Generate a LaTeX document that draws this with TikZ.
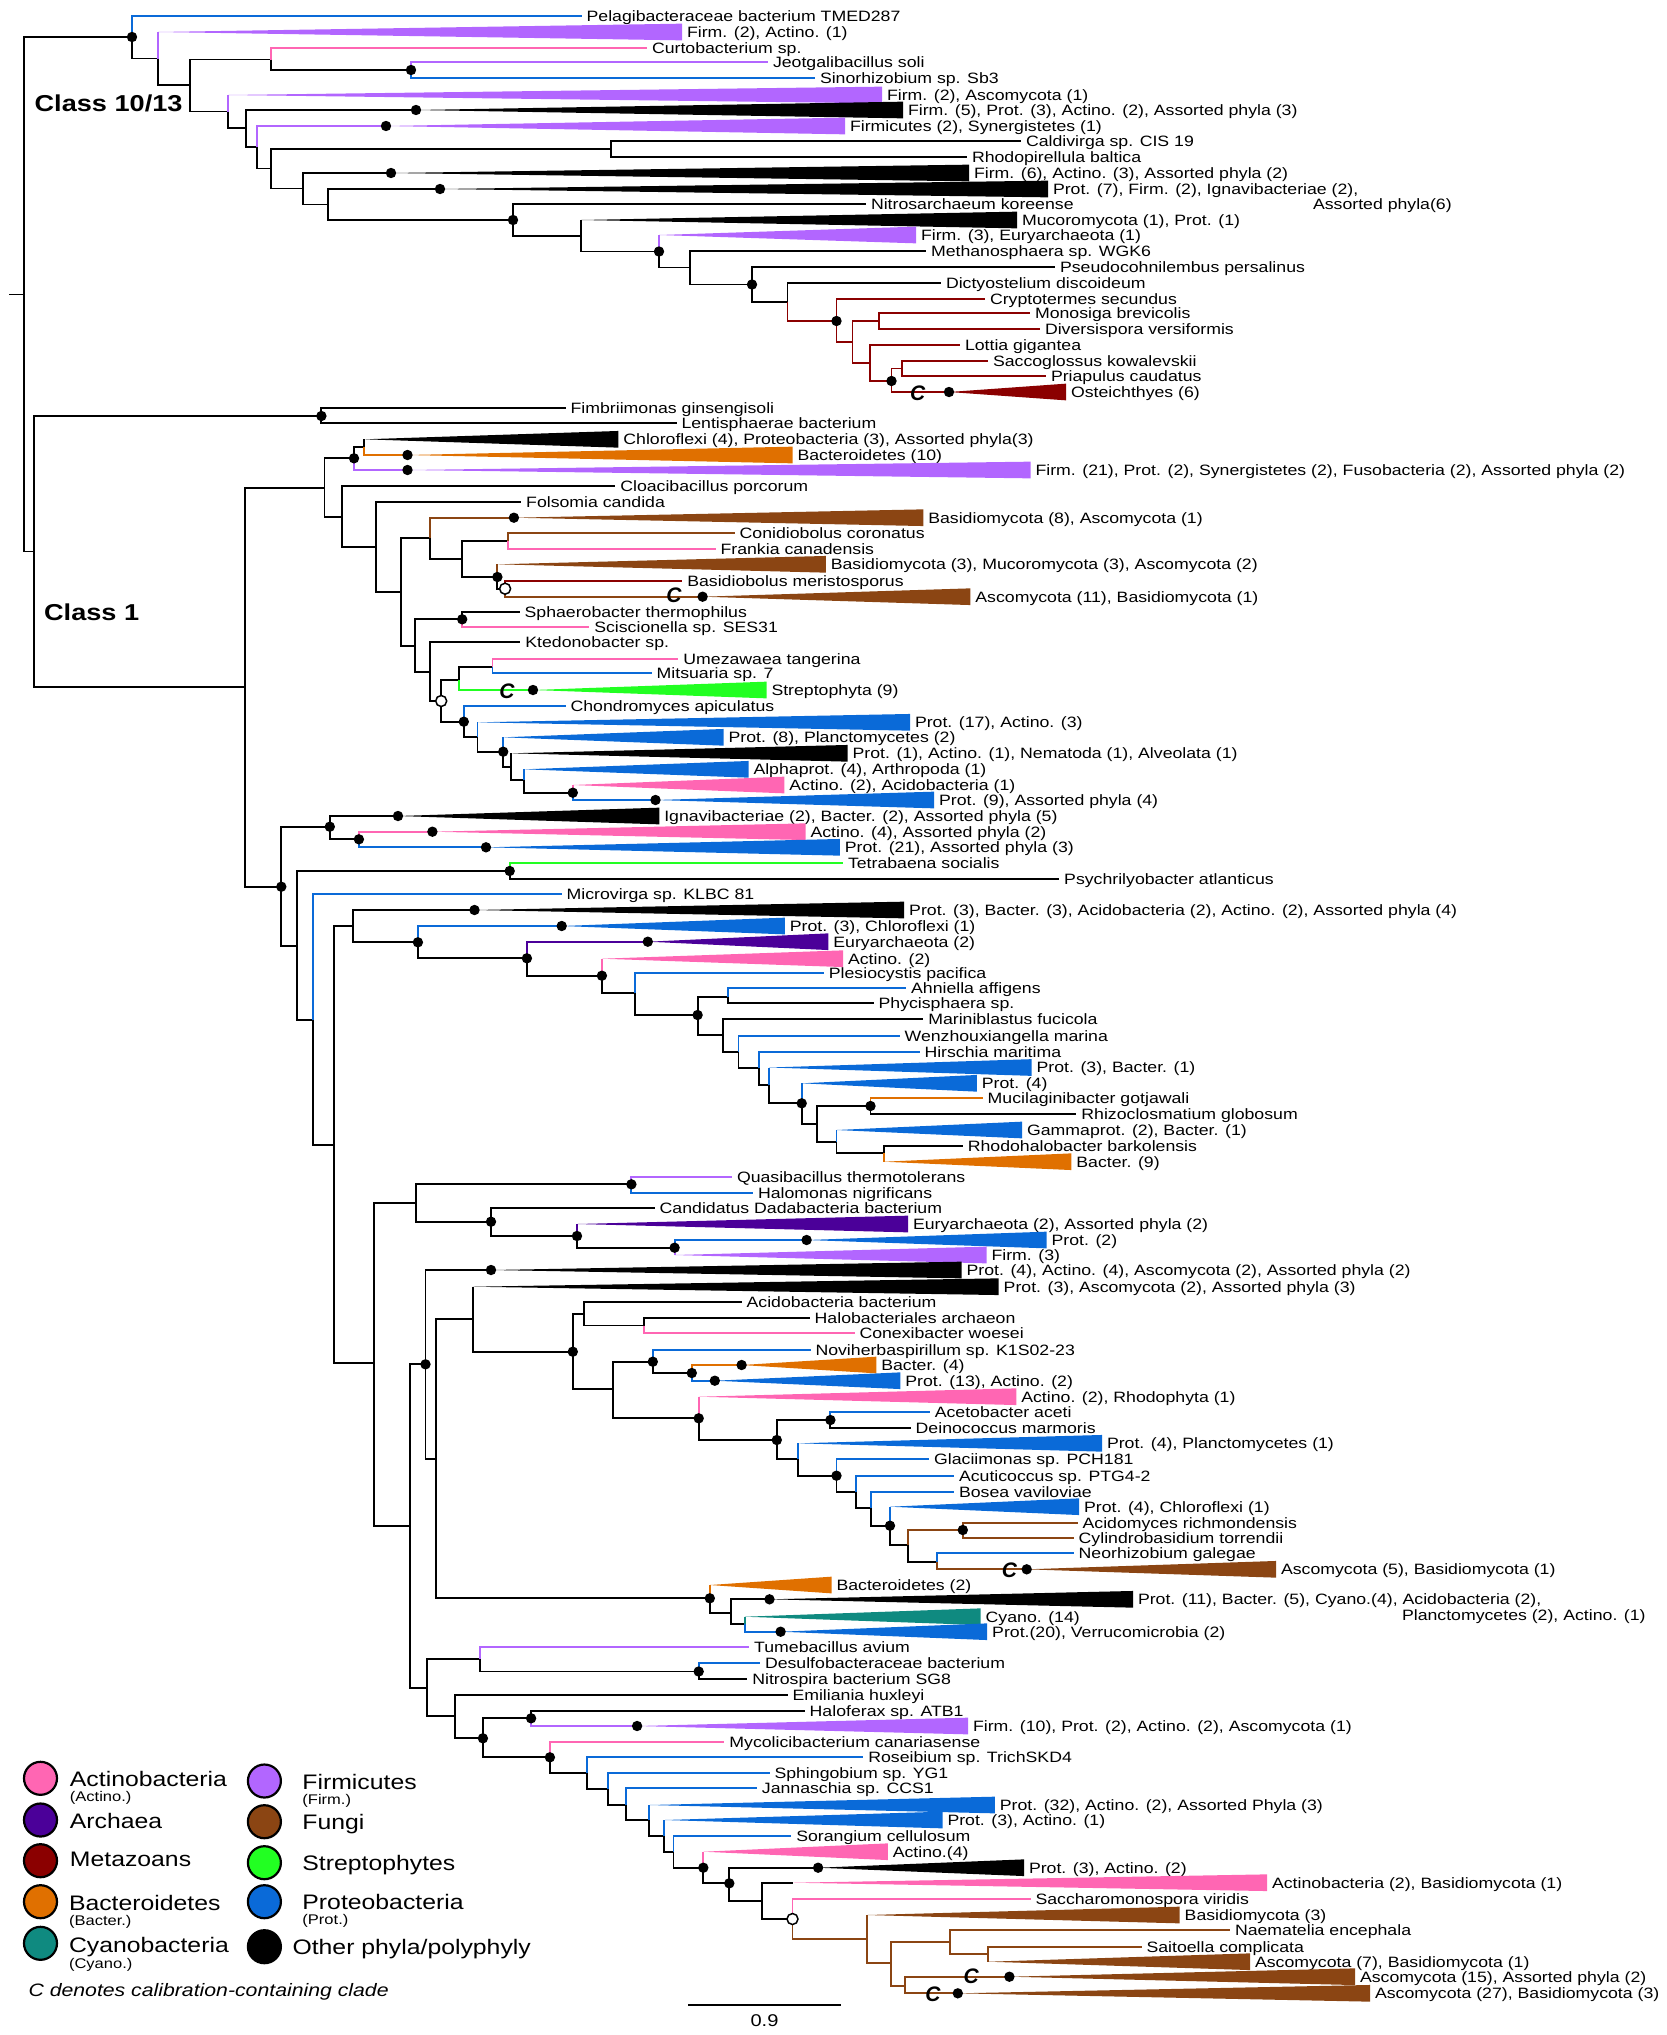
\documentclass[tikz,border=0pt]{standalone}
\usepackage{fontspec}
\newfontfamily\labfam{Liberation Sans}[FakeStretch=1.18]
\newfontfamily\calfam{Liberation Sans}
\definecolor{actino}{HTML}{FF66B3}
\definecolor{archaea}{HTML}{4B0099}
\definecolor{metazoa}{HTML}{8B0000}
\definecolor{bacter}{HTML}{E07000}
\definecolor{cyano}{HTML}{0F8A80}
\definecolor{firm}{HTML}{B266FF}
\definecolor{fungi}{HTML}{8B4513}
\definecolor{strepto}{HTML}{22FF22}
\definecolor{prot}{HTML}{0A6AD8}
\begin{document}
\begin{tikzpicture}[x=1pt,y=-1pt,line width=1.9pt,
  lab/.style={anchor=west,inner xsep=5pt,inner ysep=3pt,outer sep=0pt,text height=10.7pt,text depth=0pt,font=\fontsize{15}{17}\labfam},
  cal/.style={inner sep=0pt,font=\fontsize{21}{21}\calfam\bfseries\itshape},
  cls/.style={anchor=west,inner sep=0pt,text height=16.5pt,text depth=0pt,font=\fontsize{23}{25}\labfam\bfseries},
  leg/.style={anchor=west,inner sep=0pt,text height=15pt,text depth=0pt,font=\fontsize{21}{23}\labfam},
  legsub/.style={anchor=west,inner sep=0pt,text height=10pt,text depth=0pt,font=\fontsize{14}{16}\labfam},
  note/.style={anchor=west,inner sep=0pt,text height=12.9pt,text depth=0pt,font=\fontsize{18}{20}\labfam\itshape},
  opendot/.style={fill=white,draw=black,line width=1.5pt}]
\useasboundingbox (0,0) rectangle (1666,2035);

\node[cls] (cls1) at (33.7,103.5) {Class 10/13};
\node[cls] (cls2) at (43.2,612) {Class 1};

\coordinate (rs) at (9,294.5);
\coordinate (r) at (24,294.5);
\coordinate (a1) at (132,37);
\coordinate (a2) at (158,58.5);
\coordinate (a3) at (190,85);
\coordinate (a4) at (271,59.5);
\coordinate (a5) at (228,111.5);
\coordinate (a6) at (411,70);
\coordinate (a7) at (246,128);
\coordinate (a8) at (257,147);
\coordinate (a9) at (271,168.5);
\coordinate (a10) at (611,149);
\coordinate (a11) at (303,188.5);
\coordinate (a12) at (328,204.5);
\coordinate (a13) at (513,220);
\coordinate (a14) at (581,236);
\coordinate (a15) at (659,251.5);
\coordinate (a16) at (690,267.5);
\coordinate (a17) at (752,284.5);
\coordinate (a18) at (787.5,302);
\coordinate (a19) at (836.5,321);
\coordinate (a20) at (879,321);
\coordinate (a21) at (852.5,342);
\coordinate (a22) at (870,363);
\coordinate (a23) at (891.5,381);
\coordinate (a24) at (902,368.5);

\node[lab] (t1) at (581.6,16) {Pelagibacteraceae bacterium TMED287};
\node[lab] (w1) at (682,32) {Firm. (2), Actino. (1)};
\node[lab] (t3) at (647,48) {Curtobacterium sp.};
\node[lab] (t4) at (768,62) {Jeotgalibacillus soli};
\node[lab] (t5) at (815,78) {Sinorhizobium sp. Sb3};
\node[lab] (w2) at (882,95) {Firm. (2), Ascomycota (1)};
\node[lab] (w3) at (903,110) {Firm. (5), Prot. (3), Actino. (2), Assorted phyla (3)};
\node[lab] (w4) at (845,126) {Firmicutes (2), Synergistetes (1)};
\node[lab] (t9) at (1021,141) {Caldivirga sp. CIS 19};
\node[lab] (t10) at (967,157) {Rhodopirellula baltica};
\node[lab] (w5) at (969,173) {Firm. (6), Actino. (3), Assorted phyla (2)};
\node[lab] (w6) at (1048,189) {Prot. (7), Firm. (2), Ignavibacteriae (2),};
\node[lab] (w6b) at (1308,204) {Assorted phyla(6)};
\node[lab] (t13) at (866,204) {Nitrosarchaeum koreense};
\node[lab] (w7) at (1017,220) {Mucoromycota (1), Prot. (1)};
\node[lab] (w8) at (916,235) {Firm. (3), Euryarchaeota (1)};
\node[lab] (t16) at (926,251) {Methanosphaera sp. WGK6};
\node[lab] (t17) at (1055,267) {Pseudocohnilembus persalinus};
\node[lab] (t18) at (941,283) {Dictyostelium discoideum};
\node[lab] (t19) at (985,299) {Cryptotermes secundus};
\node[lab] (t20) at (1030,313) {Monosiga brevicolis};
\node[lab] (t21) at (1040,329) {Diversispora versiformis};
\node[lab] (t22) at (960,345) {Lottia gigantea};
\node[lab] (t23) at (988,361) {Saccoglossus kowalevskii};
\node[lab] (t24) at (1046,376) {Priapulus caudatus};
\node[lab] (w25) at (1066,392) {Osteichthyes (6)};

\coordinate (w1c) at (158,32);
\coordinate (w2c) at (228,95);
\coordinate (w3c) at (416,110);
\coordinate (w4c) at (386,126);
\coordinate (w5c) at (391,173);
\coordinate (w6c) at (440,189);
\coordinate (w7c) at (581,220);
\coordinate (w8c) at (659,235);
\coordinate (w25c) at (949,392);

\draw (rs) -- (r);
\draw (r) |- (a1);
\draw[prot] (a1) |- (t1.west);
\draw (a1) |- (a2);
\draw[firm] (a2) |- (w1c);
\draw (a2) |- (a3);
\draw (a3) |- (a4);
\draw (a3) |- (a5);
\draw[actino] (a4) |- (t3.west);
\draw (a4) |- (a6);
\draw[firm] (a6) |- (t4.west);
\draw[prot] (a6) |- (t5.west);
\draw[firm] (a5) |- (w2c);
\draw (a5) |- (a7);
\draw (a7) |- (w3c);
\draw (a7) |- (a8);
\draw[firm] (a8) |- (w4c);
\draw (a8) |- (a9);
\draw (a9) |- (a10);
\draw (a9) |- (a11);
\draw (a10) |- (t9.west);
\draw (a10) |- (t10.west);
\draw (a11) |- (w5c);
\draw (a11) |- (a12);
\draw (a12) |- (w6c);
\draw (a12) |- (a13);
\draw (a13) |- (t13.west);
\draw (a13) |- (a14);
\draw (a14) |- (w7c);
\draw (a14) |- (a15);
\draw[firm] (a15) |- (w8c);
\draw (a15) |- (a16);
\draw (a16) |- (t16.west);
\draw (a16) |- (a17);
\draw (a17) |- (t17.west);
\draw (a17) |- (a18);
\draw (a18) |- (t18.west);
\draw[metazoa] (a18) |- (a19);
\draw[metazoa] (a19) |- (t19.west);
\draw[metazoa] (a19) |- (a21);
\draw[metazoa] (a21) |- (a20);
\draw[metazoa] (a20) |- (t20.west);
\draw[metazoa] (a20) |- (t21.west);
\draw[metazoa] (a21) |- (a22);
\draw[metazoa] (a22) |- (t22.west);
\draw[metazoa] (a22) |- (a23);
\draw[metazoa] (a23) |- (a24);
\draw[metazoa] (a24) |- (t23.west);
\draw[metazoa] (a24) |- (t24.west);
\draw[metazoa] (a23) |- (w25c);

\fill[firm] (w1c) -- (w1.north west) -- (w1.south west) -- cycle;
\fill[firm] (w2c) -- (w2.north west) -- (w2.south west) -- cycle;
\fill (w3c) -- (w3.north west) -- (w3.south west) -- cycle;
\fill[firm] (w4c) -- (w4.north west) -- (w4.south west) -- cycle;
\fill (w5c) -- (w5.north west) -- (w5.south west) -- cycle;
\fill (w6c) -- (w6.north west) -- (w6.south west) -- cycle;
\fill (w7c) -- (w7.north west) -- (w7.south west) -- cycle;
\fill[firm] (w8c) -- (w8.north west) -- (w8.south west) -- cycle;
\fill[metazoa] (w25c) -- (w25.north west) -- (w25.south west) -- cycle;

\coordinate (c0) at (34.4,551.5);
\coordinate (c1) at (321.4,416);
\coordinate (c2) at (245,687);
\coordinate (c3) at (324.5,487.7);
\coordinate (c4) at (281.3,886.7);
\coordinate (c5) at (354,458.3);
\coordinate (c6) at (341.7,516.7);
\coordinate (c7) at (364.3,446.7);
\coordinate (c8) at (376.2,547.3);
\coordinate (c9) at (400.6,591.7);
\coordinate (c10) at (429.7,538.3);
\coordinate (c11) at (415.2,646);
\coordinate (c12) at (462.2,559);
\coordinate (c13) at (508.2,541);
\coordinate (c14) at (497.4,577);
\coordinate (c15) at (505.1,588.7);
\coordinate (c16) at (462.2,619.3);
\coordinate (c17) at (429.7,672);
\coordinate (c18) at (441.2,701);
\coordinate (c19) at (492.5,666.7);
\coordinate (c20) at (459.2,680);
\coordinate (c21) at (463.8,721.7);
\coordinate (c22) at (477.5,737.3);
\coordinate (c23) at (503.2,751.7);
\coordinate (c24) at (510.8,767.3);
\coordinate (c25) at (524.2,780);
\coordinate (c26) at (572.8,792.7);
\coordinate (c27) at (329.8,826.7);
\coordinate (c28) at (296.6,946);
\coordinate (c29) at (358.9,839.3);
\coordinate (c30) at (509.7,871);
\coordinate (c31) at (313,1020);
\coordinate (c32) at (334,1145);
\coordinate (c33) at (353.2,926);
\coordinate (c34) at (417.9,942.3);
\coordinate (c35) at (526.9,958.3);
\coordinate (c36) at (601.9,975.7);
\coordinate (c37) at (635.2,993.3);
\coordinate (c38) at (697.6,1015);
\coordinate (c39) at (728.2,996.7);
\coordinate (c40) at (723.2,1035);
\coordinate (c41) at (738.5,1051.7);
\coordinate (c42) at (758.8,1068.3);
\coordinate (c43) at (769.1,1085);
\coordinate (c44) at (801.7,1103.3);
\coordinate (c45) at (817,1124);
\coordinate (c46) at (870.5,1106);
\coordinate (c47) at (836.5,1141.7);
\coordinate (c48) at (883.9,1153.3);
\coordinate (c49) at (373.9,1363.3);
\coordinate (c50) at (416,1202.7);
\coordinate (c51) at (631.4,1184.3);
\coordinate (c52) at (491,1221.7);
\coordinate (c53) at (577,1236);
\coordinate (c54) at (674.6,1247.7);
\coordinate (c55) at (410.2,1525.7);
\coordinate (c56) at (425.5,1364.3);
\coordinate (c57) at (436.2,1459.3);
\coordinate (c58) at (472.6,1319);
\coordinate (c59) at (572.8,1351.7);
\coordinate (c60) at (584.3,1314.3);
\coordinate (c61) at (644,1325.5);
\coordinate (c62) at (612.6,1389.3);
\coordinate (c63) at (652.8,1361.7);
\coordinate (c64) at (691.8,1373);
\coordinate (c65) at (698.7,1418.3);
\coordinate (c66) at (776.8,1440);
\coordinate (c67) at (830.4,1420);
\coordinate (c68) at (798.2,1459);
\coordinate (c69) at (836.5,1475.7);
\coordinate (c70) at (856.4,1491.7);
\coordinate (c71) at (870.9,1508.3);
\coordinate (c72) at (890,1525.7);
\coordinate (c73) at (908,1545);
\coordinate (c74) at (962.8,1530);
\coordinate (c75) at (936.7,1561.7);
\coordinate (c76) at (709.8,1598.3);
\coordinate (c77) at (730.9,1613.3);
\coordinate (c78) at (744.6,1624.3);
\coordinate (c79) at (426.7,1688.3);
\coordinate (c80) at (480.2,1659.3);
\coordinate (c81) at (698.7,1671.5);
\coordinate (c82) at (454.6,1716);
\coordinate (c83) at (482.9,1738.3);
\coordinate (c84) at (531.1,1718.3);
\coordinate (c85) at (549.9,1757.3);
\coordinate (c86) at (586.6,1772.7);
\coordinate (c87) at (607.7,1789.3);
\coordinate (c88) at (626,1805);
\coordinate (c89) at (649,1820);
\coordinate (c90) at (664.3,1836);
\coordinate (c91) at (673.5,1851.7);
\coordinate (c92) at (703.3,1867.7);
\coordinate (c93) at (729.3,1883.3);
\coordinate (c94) at (761.9,1901);
\coordinate (c95) at (792.5,1919);
\coordinate (c96) at (866.7,1939);
\coordinate (c97) at (890.8,1963.3);
\coordinate (c98) at (950.1,1942.3);
\coordinate (c99) at (905,1985.7);
\coordinate (c100) at (988.4,1954);

\node[lab] (k1) at (565.6,408) {Fimbriimonas ginsengisoli};
\node[lab] (k2) at (676.5,423) {Lentisphaerae bacterium};
\node[lab] (k3) at (618.4,439.3) {Chloroflexi (4), Proteobacteria (3), Assorted phyla(3)};
\node[lab] (k4) at (792.5,455) {Bacteroidetes (10)};
\node[lab] (k5) at (1030.5,470) {Firm. (21), Prot. (2), Synergistetes (2), Fusobacteria (2), Assorted phyla (2)};
\node[lab] (k6) at (615.3,486) {Cloacibacillus porcorum};
\node[lab] (k7) at (521.2,502.3) {Folsomia candida};
\node[lab] (k8) at (923.3,517.7) {Basidiomycota (8), Ascomycota (1)};
\node[lab] (k9) at (734.7,533.3) {Conidiobolus coronatus};
\node[lab] (k10) at (715.6,549) {Frankia canadensis};
\node[lab] (k11) at (825.8,564.3) {Basidiomycota (3), Mucoromycota (3), Ascomycota (2)};
\node[lab] (k12) at (682.3,580.7) {Basidiobolus meristosporus};
\node[lab] (k13) at (970.4,596.7) {Ascomycota (11), Basidiomycota (1)};
\node[lab] (k14) at (519.6,611.7) {Sphaerobacter thermophilus};
\node[lab] (k15) at (589.3,626.7) {Sciscionella sp. SES31};
\node[lab] (k16) at (520.4,642.3) {Ktedonobacter sp.};
\node[lab] (k17) at (678.4,659.3) {Umezawaea tangerina};
\node[lab] (k18) at (651.7,673.3) {Mitsuaria sp. 7};
\node[lab] (k19) at (766.5,690) {Streptophyta (9)};
\node[lab] (k20) at (565.6,706) {Chondromyces apiculatus};
\node[lab] (k21) at (910,722.3) {Prot. (17), Actino. (3)};
\node[lab] (k22) at (723.6,737.3) {Prot. (8), Planctomycetes (2)};
\node[lab] (k23) at (847.6,753.3) {Prot. (1), Actino. (1), Nematoda (1), Alveolata (1)};
\node[lab] (k24) at (748.5,769.3) {Alphaprot. (4), Arthropoda (1)};
\node[lab] (k25) at (784.4,785) {Actino. (2), Acidobacteria (1)};
\node[lab] (k26) at (934.1,800) {Prot. (9), Assorted phyla (4)};
\node[lab] (k27) at (659.3,816) {Ignavibacteriae (2), Bacter. (2), Assorted phyla (5)};
\node[lab] (k28) at (805.5,831.7) {Actino. (4), Assorted phyla (2)};
\node[lab] (k29) at (839.9,847.3) {Prot. (21), Assorted phyla (3)};
\node[lab] (k30) at (843,863.3) {Tetrabaena socialis};
\node[lab] (k31) at (1059.2,879) {Psychrilyobacter atlanticus};
\node[lab] (k32) at (561.7,894.3) {Microvirga sp. KLBC 81};
\node[lab] (k33) at (904.2,910) {Prot. (3), Bacter. (3), Acidobacteria (2), Actino. (2), Assorted phyla (4)};
\node[lab] (k34) at (784.8,926) {Prot. (3), Chloroflexi (1)};
\node[lab] (k35) at (828.4,941.7) {Euryarchaeota (2)};
\node[lab] (k36) at (843,958.7) {Actino. (2)};
\node[lab] (k37) at (823.9,973.3) {Plesiocystis pacifica};
\node[lab] (k38) at (906.1,988.3) {Ahniella affigens};
\node[lab] (k39) at (873.6,1002.7) {Phycisphaera sp.};
\node[lab] (k40) at (923.3,1019) {Mariniblastus fucicola};
\node[lab] (k41) at (899.6,1035.7) {Wenzhouxiangella marina};
\node[lab] (k42) at (919.5,1051.7) {Hirschia maritima};
\node[lab] (k43) at (1031.6,1067.5) {Prot. (3), Bacter. (1)};
\node[lab] (k44) at (976.9,1083.3) {Prot. (4)};
\node[lab] (k45) at (982.7,1098.3) {Mucilaginibacter gotjawali};
\node[lab] (k46) at (1076.4,1114) {Rhizoclosmatium globosum};
\node[lab] (k47) at (1022.1,1130) {Gammaprot. (2), Bacter. (1)};
\node[lab] (k48) at (962.8,1146) {Rhodohalobacter barkolensis};
\node[lab] (k49) at (1071.4,1161.7) {Bacter. (9)};
\node[lab] (k50) at (732,1176.7) {Quasibacillus thermotolerans};
\node[lab] (k51) at (753.1,1192.7) {Halomonas nigrificans};
\node[lab] (k52) at (654.7,1208.3) {Candidatus Dadabacteria bacterium};
\node[lab] (k53) at (908,1224) {Euryarchaeota (2), Assorted phyla (2)};
\node[lab] (k54) at (1046.6,1240) {Prot. (2)};
\node[lab] (k55) at (986.5,1255) {Firm. (3)};
\node[lab] (k56) at (961.6,1270) {Prot. (4), Actino. (4), Ascomycota (2), Assorted phyla (2)};
\node[lab] (k57) at (998.7,1286.7) {Prot. (3), Ascomycota (2), Assorted phyla (3)};
\node[lab] (k58) at (741.6,1302.3) {Acidobacteria bacterium};
\node[lab] (k59) at (809.7,1317.7) {Halobacteriales archaeon};
\node[lab] (k60) at (854.5,1333.3) {Conexibacter woesei};
\node[lab] (k61) at (810.5,1350) {Noviherbaspirillum sp. K1S02-23};
\node[lab] (k62) at (876.3,1365) {Bacter. (4)};
\node[lab] (k63) at (900.4,1380.7) {Prot. (13), Actino. (2)};
\node[lab] (k64) at (1016.3,1396.7) {Actino. (2), Rhodophyta (1)};
\node[lab] (k65) at (929.8,1411.7) {Acetobacter aceti};
\node[lab] (k66) at (910.7,1428.3) {Deinococcus marmoris};
\node[lab] (k67) at (1102,1443.3) {Prot. (4), Planctomycetes (1)};
\node[lab] (k68) at (929.1,1459.3) {Glaciimonas sp. PCH181};
\node[lab] (k69) at (954,1475.7) {Acuticoccus sp. PTG4-2};
\node[lab] (k70) at (954,1491.7) {Bosea vaviloviae};
\node[lab] (k71) at (1079.1,1506.7) {Prot. (4), Chloroflexi (1)};
\node[lab] (k72) at (1077.6,1522.7) {Acidomyces richmondensis};
\node[lab] (k73) at (1073.7,1538.3) {Cylindrobasidium torrendii};
\node[lab] (k74) at (1073.7,1553.3) {Neorhizobium galegae};
\node[lab] (k75) at (1276,1569.3) {Ascomycota (5), Basidiomycota (1)};
\node[lab] (k76) at (831.5,1585) {Bacteroidetes (2)};
\node[lab] (k77) at (1133,1599.3) {Prot. (11), Bacter. (5), Cyano.(4), Acidobacteria (2),};
\node[lab] (k77b) at (1397,1615) {Planctomycetes (2), Actino. (1)};
\node[lab] (k78) at (980.7,1616.7) {Cyano. (14)};
\node[lab] (k79) at (987.2,1631.7) {Prot.(20), Verrucomicrobia (2)};
\node[lab] (k80) at (749.2,1647.3) {Tumebacillus avium};
\node[lab] (k81) at (760,1663.3) {Desulfobacteraceae bacterium};
\node[lab] (k82) at (747.3,1679.3) {Nitrospira bacterium SG8};
\node[lab] (k83) at (787.5,1695) {Emiliania huxleyi};
\node[lab] (k84) at (804.7,1710.7) {Haloferax sp. ATB1};
\node[lab] (k85) at (968.1,1726) {Firm. (10), Prot. (2), Actino. (2), Ascomycota (1)};
\node[lab] (k86) at (724.4,1741.7) {Mycolicibacterium canariasense};
\node[lab] (k87) at (863.3,1757.3) {Roseibium sp. TrichSKD4};
\node[lab] (k88) at (769.5,1772.7) {Sphingobium sp. YG1};
\node[lab] (k89) at (756.9,1788.3) {Jannaschia sp. CCS1};
\node[lab] (k90) at (994.9,1805) {Prot. (32), Actino. (2), Assorted Phyla (3)};
\node[lab] (k91) at (942.5,1820) {Prot. (3), Actino. (1)};
\node[lab] (k92) at (791.3,1836) {Sorangium cellulosum};
\node[lab] (k93) at (887.8,1851.7) {Actino.(4)};
\node[lab] (k94) at (1024,1867.7) {Prot. (3), Actino. (2)};
\node[lab] (k95) at (1267,1882.7) {Actinobacteria (2), Basidiomycota (1)};
\node[lab] (k96) at (1030.5,1899.3) {Saccharomonospora viridis};
\node[lab] (k97) at (1179.7,1915) {Basidiomycota (3)};
\node[lab] (k98) at (1230,1930) {Naematelia encephala};
\node[lab] (k99) at (1141.5,1946.7) {Saitoella complicata};
\node[lab] (k100) at (1250,1961.7) {Ascomycota (7), Basidiomycota (1)};
\node[lab] (k101) at (1355,1976.7) {Ascomycota (15), Assorted phyla (2)};
\node[lab] (k102) at (1370,1993.3) {Ascomycota (27), Basidiomycota (3)};

\coordinate (k3c) at (364.3,439.3);
\coordinate (k4c) at (407.5,455);
\coordinate (k5c) at (407.5,470);
\coordinate (k8c) at (513.9,517.7);
\coordinate (k11c) at (497.4,564.3);
\coordinate (k13c) at (702.6,596.7);
\coordinate (k19c) at (533,690);
\coordinate (k21c) at (477.5,722.3);
\coordinate (k22c) at (503.2,737.3);
\coordinate (k23c) at (510.8,753.3);
\coordinate (k24c) at (524.2,769.3);
\coordinate (k25c) at (572.8,785);
\coordinate (k26c) at (655.5,800);
\coordinate (k27c) at (398,816);
\coordinate (k28c) at (432.4,831.7);
\coordinate (k29c) at (486,847.3);
\coordinate (k33c) at (474.5,910);
\coordinate (k34c) at (561.7,926);
\coordinate (k35c) at (647.8,941.7);
\coordinate (k36c) at (601.9,958.7);
\coordinate (k43c) at (769.1,1067.5);
\coordinate (k44c) at (801.7,1083.3);
\coordinate (k47c) at (836.5,1130);
\coordinate (k49c) at (883.9,1161.7);
\coordinate (k53c) at (577,1224);
\coordinate (k54c) at (806.6,1240);
\coordinate (k55c) at (674.6,1255);
\coordinate (k56c) at (491,1270);
\coordinate (k57c) at (472.6,1286.7);
\coordinate (k62c) at (741.6,1365);
\coordinate (k63c) at (714.8,1380.7);
\coordinate (k64c) at (698.7,1396.7);
\coordinate (k67c) at (798.2,1443.3);
\coordinate (k71c) at (890,1506.7);
\coordinate (k75c) at (1026.7,1569.3);
\coordinate (k76c) at (709.8,1585);
\coordinate (k77c) at (769.5,1599.3);
\coordinate (k78c) at (744.6,1616.7);
\coordinate (k79c) at (780.6,1631.7);
\coordinate (k85c) at (637.1,1726);
\coordinate (k90c) at (649,1805);
\coordinate (k91c) at (664.3,1820);
\coordinate (k93c) at (703.3,1851.7);
\coordinate (k94c) at (818.1,1867.7);
\coordinate (k95c) at (793.2,1882.7);
\coordinate (k97c) at (866.7,1915);
\coordinate (k100c) at (988.4,1961.7);
\coordinate (k101c) at (1009.4,1976.7);
\coordinate (k102c) at (957.8,1993.3);

\draw (r) |- (c0);
\draw (c0) |- (c1);
\draw (c0) |- (c2);
\draw (c1) |- (k1.west);
\draw (c1) |- (k2.west);
\draw (c2) |- (c3);
\draw (c2) |- (c4);
\draw (c3) |- (c5);
\draw (c3) |- (c6);
\draw (c5) |- (c7);
\draw[firm] (c5) |- (k5c);
\draw (c7) |- (k3c);
\draw[bacter] (c7) |- (k4c);
\draw (c6) |- (k6.west);
\draw (c6) |- (c8);
\draw (c8) |- (k7.west);
\draw (c8) |- (c9);
\draw (c9) |- (c10);
\draw (c9) |- (c11);
\draw[fungi] (c10) |- (k8c);
\draw (c10) |- (c12);
\draw (c12) |- (c13);
\draw (c12) |- (c14);
\draw[fungi] (c13) |- (k9.west);
\draw[actino] (c13) |- (k10.west);
\draw[fungi] (c14) |- (k11c);
\draw (c14) |- (c15);
\draw[metazoa] (c15) |- (k12.west);
\draw[fungi] (c15) |- (k13c);
\draw (c11) |- (c16);
\draw (c11) |- (c17);
\draw (c16) |- (k14.west);
\draw[actino] (c16) |- (k15.west);
\draw (c17) |- (k16.west);
\draw (c17) |- (c18);
\draw (c18) |- (c20);
\draw (c18) |- (c21);
\draw (c20) |- (c19);
\draw[strepto] (c20) |- (k19c);
\draw[actino] (c19) |- (k17.west);
\draw[prot] (c19) |- (k18.west);
\draw[prot] (c21) |- (k20.west);
\draw (c21) |- (c22);
\draw[prot] (c22) |- (k21c);
\draw (c22) |- (c23);
\draw[prot] (c23) |- (k22c);
\draw (c23) |- (c24);
\draw (c24) |- (k23c);
\draw (c24) |- (c25);
\draw[prot] (c25) |- (k24c);
\draw (c25) |- (c26);
\draw[actino] (c26) |- (k25c);
\draw[prot] (c26) |- (k26c);
\draw (c4) |- (c27);
\draw (c4) |- (c28);
\draw (c27) |- (k27c);
\draw (c27) |- (c29);
\draw[actino] (c29) |- (k28c);
\draw[prot] (c29) |- (k29c);
\draw (c28) |- (c30);
\draw (c28) |- (c31);
\draw[strepto] (c30) |- (k30.west);
\draw (c30) |- (k31.west);
\draw[prot] (c31) |- (k32.west);
\draw (c31) |- (c32);
\draw (c32) |- (c33);
\draw (c32) |- (c49);
\draw (c33) |- (k33c);
\draw (c33) |- (c34);
\draw[prot] (c34) |- (k34c);
\draw (c34) |- (c35);
\draw[archaea] (c35) |- (k35c);
\draw (c35) |- (c36);
\draw[actino] (c36) |- (k36c);
\draw (c36) |- (c37);
\draw[prot] (c37) |- (k37.west);
\draw (c37) |- (c38);
\draw (c38) |- (c39);
\draw (c38) |- (c40);
\draw[prot] (c39) |- (k38.west);
\draw (c39) |- (k39.west);
\draw (c40) |- (k40.west);
\draw (c40) |- (c41);
\draw[prot] (c41) |- (k41.west);
\draw (c41) |- (c42);
\draw[prot] (c42) |- (k42.west);
\draw (c42) |- (c43);
\draw[prot] (c43) |- (k43c);
\draw (c43) |- (c44);
\draw[prot] (c44) |- (k44c);
\draw (c44) |- (c45);
\draw (c45) |- (c46);
\draw (c45) |- (c47);
\draw[bacter] (c46) |- (k45.west);
\draw (c46) |- (k46.west);
\draw[prot] (c47) |- (k47c);
\draw (c47) |- (c48);
\draw (c48) |- (k48.west);
\draw[bacter] (c48) |- (k49c);
\draw (c49) |- (c50);
\draw (c49) |- (c55);
\draw (c50) |- (c51);
\draw (c50) |- (c52);
\draw[firm] (c51) |- (k50.west);
\draw[prot] (c51) |- (k51.west);
\draw (c52) |- (k52.west);
\draw (c52) |- (c53);
\draw[archaea] (c53) |- (k53c);
\draw (c53) |- (c54);
\draw[prot] (c54) |- (k54c);
\draw[firm] (c54) |- (k55c);
\draw (c55) |- (c56);
\draw (c55) |- (c79);
\draw (c56) |- (k56c);
\draw (c56) |- (c57);
\draw (c57) |- (c58);
\draw (c57) |- (c76);
\draw (c58) |- (k57c);
\draw (c58) |- (c59);
\draw (c59) |- (c60);
\draw (c59) |- (c62);
\draw (c60) |- (k58.west);
\draw (c60) |- (c61);
\draw (c61) |- (k59.west);
\draw[actino] (c61) |- (k60.west);
\draw (c62) |- (c63);
\draw (c62) |- (c65);
\draw[prot] (c63) |- (k61.west);
\draw (c63) |- (c64);
\draw[bacter] (c64) |- (k62c);
\draw[prot] (c64) |- (k63c);
\draw[actino] (c65) |- (k64c);
\draw (c65) |- (c66);
\draw (c66) |- (c67);
\draw (c66) |- (c68);
\draw[prot] (c67) |- (k65.west);
\draw (c67) |- (k66.west);
\draw[prot] (c68) |- (k67c);
\draw (c68) |- (c69);
\draw[prot] (c69) |- (k68.west);
\draw (c69) |- (c70);
\draw[prot] (c70) |- (k69.west);
\draw (c70) |- (c71);
\draw[prot] (c71) |- (k70.west);
\draw (c71) |- (c72);
\draw[prot] (c72) |- (k71c);
\draw (c72) |- (c73);
\draw[fungi] (c73) |- (c74);
\draw (c73) |- (c75);
\draw[fungi] (c74) |- (k72.west);
\draw[fungi] (c74) |- (k73.west);
\draw[prot] (c75) |- (k74.west);
\draw[fungi] (c75) |- (k75c);
\draw[bacter] (c76) |- (k76c);
\draw (c76) |- (c77);
\draw (c77) |- (k77c);
\draw (c77) |- (c78);
\draw[cyano] (c78) |- (k78c);
\draw[prot] (c78) |- (k79c);
\draw (c79) |- (c80);
\draw (c79) |- (c82);
\draw[firm] (c80) |- (k80.west);
\draw (c80) |- (c81);
\draw[prot] (c81) |- (k81.west);
\draw (c81) |- (k82.west);
\draw (c82) |- (k83.west);
\draw (c82) |- (c83);
\draw (c83) |- (c84);
\draw (c83) |- (c85);
\draw (c84) |- (k84.west);
\draw[firm] (c84) |- (k85c);
\draw[actino] (c85) |- (k86.west);
\draw (c85) |- (c86);
\draw[prot] (c86) |- (k87.west);
\draw (c86) |- (c87);
\draw[prot] (c87) |- (k88.west);
\draw (c87) |- (c88);
\draw[prot] (c88) |- (k89.west);
\draw (c88) |- (c89);
\draw[prot] (c89) |- (k90c);
\draw (c89) |- (c90);
\draw[prot] (c90) |- (k91c);
\draw (c90) |- (c91);
\draw[prot] (c91) |- (k92.west);
\draw (c91) |- (c92);
\draw[actino] (c92) |- (k93c);
\draw (c92) |- (c93);
\draw (c93) |- (k94c);
\draw (c93) |- (c94);
\draw (c94) |- (k95c);
\draw (c94) |- (c95);
\draw[actino] (c95) |- (k96.west);
\draw[fungi] (c95) |- (c96);
\draw[fungi] (c96) |- (k97c);
\draw[fungi] (c96) |- (c97);
\draw[fungi] (c97) |- (c98);
\draw[fungi] (c97) |- (c99);
\draw[fungi] (c98) |- (k98.west);
\draw[fungi] (c98) |- (c100);
\draw[fungi] (c100) |- (k99.west);
\draw[fungi] (c100) |- (k100c);
\draw[fungi] (c99) |- (k101c);
\draw[fungi] (c99) |- (k102c);

\fill (k3c) -- (k3.north west) -- (k3.south west) -- cycle;
\fill[bacter] (k4c) -- (k4.north west) -- (k4.south west) -- cycle;
\fill[firm] (k5c) -- (k5.north west) -- (k5.south west) -- cycle;
\fill[fungi] (k8c) -- (k8.north west) -- (k8.south west) -- cycle;
\fill[fungi] (k11c) -- (k11.north west) -- (k11.south west) -- cycle;
\fill[fungi] (k13c) -- (k13.north west) -- (k13.south west) -- cycle;
\fill[strepto] (k19c) -- (k19.north west) -- (k19.south west) -- cycle;
\fill[prot] (k21c) -- (k21.north west) -- (k21.south west) -- cycle;
\fill[prot] (k22c) -- (k22.north west) -- (k22.south west) -- cycle;
\fill (k23c) -- (k23.north west) -- (k23.south west) -- cycle;
\fill[prot] (k24c) -- (k24.north west) -- (k24.south west) -- cycle;
\fill[actino] (k25c) -- (k25.north west) -- (k25.south west) -- cycle;
\fill[prot] (k26c) -- (k26.north west) -- (k26.south west) -- cycle;
\fill (k27c) -- (k27.north west) -- (k27.south west) -- cycle;
\fill[actino] (k28c) -- (k28.north west) -- (k28.south west) -- cycle;
\fill[prot] (k29c) -- (k29.north west) -- (k29.south west) -- cycle;
\fill (k33c) -- (k33.north west) -- (k33.south west) -- cycle;
\fill[prot] (k34c) -- (k34.north west) -- (k34.south west) -- cycle;
\fill[archaea] (k35c) -- (k35.north west) -- (k35.south west) -- cycle;
\fill[actino] (k36c) -- (k36.north west) -- (k36.south west) -- cycle;
\fill[prot] (k43c) -- (k43.north west) -- (k43.south west) -- cycle;
\fill[prot] (k44c) -- (k44.north west) -- (k44.south west) -- cycle;
\fill[prot] (k47c) -- (k47.north west) -- (k47.south west) -- cycle;
\fill[bacter] (k49c) -- (k49.north west) -- (k49.south west) -- cycle;
\fill[archaea] (k53c) -- (k53.north west) -- (k53.south west) -- cycle;
\fill[prot] (k54c) -- (k54.north west) -- (k54.south west) -- cycle;
\fill[firm] (k55c) -- (k55.north west) -- (k55.south west) -- cycle;
\fill (k56c) -- (k56.north west) -- (k56.south west) -- cycle;
\fill (k57c) -- (k57.north west) -- (k57.south west) -- cycle;
\fill[bacter] (k62c) -- (k62.north west) -- (k62.south west) -- cycle;
\fill[prot] (k63c) -- (k63.north west) -- (k63.south west) -- cycle;
\fill[actino] (k64c) -- (k64.north west) -- (k64.south west) -- cycle;
\fill[prot] (k67c) -- (k67.north west) -- (k67.south west) -- cycle;
\fill[prot] (k71c) -- (k71.north west) -- (k71.south west) -- cycle;
\fill[fungi] (k75c) -- (k75.north west) -- (k75.south west) -- cycle;
\fill[bacter] (k76c) -- (k76.north west) -- (k76.south west) -- cycle;
\fill (k77c) -- (k77.north west) -- (k77.south west) -- cycle;
\fill[cyano] (k78c) -- (k78.north west) -- (k78.south west) -- cycle;
\fill[prot] (k79c) -- (k79.north west) -- (k79.south west) -- cycle;
\fill[firm] (k85c) -- (k85.north west) -- (k85.south west) -- cycle;
\fill[prot] (k90c) -- (k90.north west) -- (k90.south west) -- cycle;
\fill[prot] (k91c) -- (k91.north west) -- (k91.south west) -- cycle;
\fill[actino] (k93c) -- (k93.north west) -- (k93.south west) -- cycle;
\fill (k94c) -- (k94.north west) -- (k94.south west) -- cycle;
\fill[actino] (k95c) -- (k95.north west) -- (k95.south west) -- cycle;
\fill[fungi] (k97c) -- (k97.north west) -- (k97.south west) -- cycle;
\fill[fungi] (k100c) -- (k100.north west) -- (k100.south west) -- cycle;
\fill[fungi] (k101c) -- (k101.north west) -- (k101.south west) -- cycle;
\fill[fungi] (k102c) -- (k102.north west) -- (k102.south west) -- cycle;

\fill (a1) circle (5.2);
\fill (a6) circle (5.2);
\fill (w3c) circle (5.2);
\fill (w4c) circle (5.2);
\fill (w5c) circle (5.2);
\fill (w6c) circle (5.2);
\fill (a13) circle (5.2);
\fill (a15) circle (5.2);
\fill (a17) circle (5.2);
\fill (a19) circle (5.2);
\fill (a23) circle (5.2);
\fill (w25c) circle (5.2);
\fill (c1) circle (5.2);
\fill (c5) circle (5.2);
\fill (k4c) circle (5.2);
\fill (k5c) circle (5.2);
\fill (k8c) circle (5.2);
\fill (c14) circle (5.2);
\fill (k13c) circle (5.2);
\fill (c16) circle (5.2);
\fill (k19c) circle (5.2);
\fill (c21) circle (5.2);
\fill (c23) circle (5.2);
\fill (c26) circle (5.2);
\fill (k26c) circle (5.2);
\fill (c4) circle (5.2);
\fill (c27) circle (5.2);
\fill (k27c) circle (5.2);
\fill (c29) circle (5.2);
\fill (k28c) circle (5.2);
\fill (k29c) circle (5.2);
\fill (c30) circle (5.2);
\fill (k33c) circle (5.2);
\fill (c34) circle (5.2);
\fill (k34c) circle (5.2);
\fill (c35) circle (5.2);
\fill (k35c) circle (5.2);
\fill (c36) circle (5.2);
\fill (c38) circle (5.2);
\fill (c44) circle (5.2);
\fill (c46) circle (5.2);
\fill (c51) circle (5.2);
\fill (c52) circle (5.2);
\fill (c53) circle (5.2);
\fill (c54) circle (5.2);
\fill (k54c) circle (5.2);
\fill (c56) circle (5.2);
\fill (k56c) circle (5.2);
\fill (c59) circle (5.2);
\fill (c63) circle (5.2);
\fill (c64) circle (5.2);
\fill (k62c) circle (5.2);
\fill (k63c) circle (5.2);
\fill (c65) circle (5.2);
\fill (c66) circle (5.2);
\fill (c67) circle (5.2);
\fill (c69) circle (5.2);
\fill (c72) circle (5.2);
\fill (c74) circle (5.2);
\fill (k75c) circle (5.2);
\fill (c76) circle (5.2);
\fill (k77c) circle (5.2);
\fill (k79c) circle (5.2);
\fill (c81) circle (5.2);
\fill (c83) circle (5.2);
\fill (c84) circle (5.2);
\fill (k85c) circle (5.2);
\fill (c85) circle (5.2);
\fill (c92) circle (5.2);
\fill (c93) circle (5.2);
\fill (k94c) circle (5.2);
\fill (k101c) circle (5.2);
\fill (k102c) circle (5.2);
\filldraw[opendot] (c15) circle (5.5);
\filldraw[opendot] (c18) circle (5.5);
\filldraw[opendot] (c95) circle (5.5);

\node[cal] (cal1) at (917.6,393) {C};
\node[cal] (cal2) at (673.9,595.3) {C};
\node[cal] (cal3) at (507,691) {C};
\node[cal] (cal4) at (1009.4,1570.3) {C};
\node[cal] (cal5) at (971.2,1976) {C};
\node[cal] (cal6) at (932.9,1994.3) {C};

\coordinate (sb1) at (688,2005);
\coordinate (sb2) at (841,2005);
\draw (sb1) -- (sb2);
\node[inner sep=0pt,text height=12.2pt,text depth=0pt,font=\fontsize{17}{19}\labfam] (sbl) at (764.5,2020) {0.9};

\filldraw[fill=actino,draw=black,line width=2.2pt] (40.5,1778.3) circle (16.5);
\filldraw[fill=archaea,draw=black,line width=2.2pt] (40.5,1820) circle (16.5);
\filldraw[fill=metazoa,draw=black,line width=2.2pt] (40.5,1860.7) circle (16.5);
\filldraw[fill=bacter,draw=black,line width=2.2pt] (40.5,1901.7) circle (16.5);
\filldraw[fill=cyano,draw=black,line width=2.2pt] (40.5,1943.3) circle (16.5);
\filldraw[fill=firm,draw=black,line width=2.2pt] (264.4,1781) circle (16.5);
\filldraw[fill=fungi,draw=black,line width=2.2pt] (264.4,1821.7) circle (16.5);
\filldraw[fill=strepto,draw=black,line width=2.2pt] (264.4,1862.7) circle (16.5);
\filldraw[fill=prot,draw=black,line width=2.2pt] (264.4,1901.7) circle (16.5);
\filldraw[fill=black,draw=black,line width=2.2pt] (264.4,1946.7) circle (16.5);

\node[leg] (lg1) at (69,1778.8) {Actinobacteria};
\node[legsub] (lg1s) at (69,1796.7) {(Actino.)};
\node[leg] (lg2) at (69,1820.8) {Archaea};
\node[leg] (lg3) at (69,1859.2) {Metazoans};
\node[leg] (lg4) at (68.1,1902.5) {Bacteroidetes};
\node[legsub] (lg4s) at (68.1,1920) {(Bacter.)};
\node[leg] (lg5) at (68.1,1944.8) {Cyanobacteria};
\node[legsub] (lg5s) at (68.1,1963.3) {(Cyano.)};
\node[leg] (lg6) at (301.5,1781.5) {Firmicutes};
\node[legsub] (lg6s) at (301.5,1799.3) {(Firm.)};
\node[leg] (lg7) at (301.5,1821.8) {Fungi};
\node[leg] (lg8) at (301.5,1863) {Streptophytes};
\node[leg] (lg9) at (301.5,1901.5) {Proteobacteria};
\node[legsub] (lg9s) at (301.5,1919.3) {(Prot.)};
\node[leg] (lg10) at (291.6,1946.7) {Other phyla/polyphyly};
\node[note] (lgn) at (27.6,1989.7) {C denotes calibration-containing clade};
\end{tikzpicture}
\end{document}
